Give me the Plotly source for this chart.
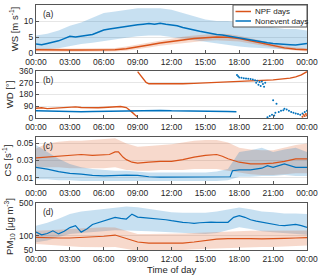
import plotly.graph_objects as go

# ---------------- data ----------------
hours = list(range(25))
half_hours = [i * 0.5 for i in range(49)]
tick_hours = [0, 3, 6, 9, 12, 15, 18, 21, 24]
tick_labels = ["00:00", "03:00", "06:00", "09:00", "12:00", "15:00", "18:00", "21:00", "00:00"]
legend_names = ["NPF days", "Nonevent days"]

# (a) wind speed
ws_non = [2.8, 2.6, 3.0, 3.3, 3.8, 4.5, 5.2, 5.0, 5.3, 5.5, 5.8, 6.5, 7.2, 7.5, 7.8, 8.0, 8.3, 8.6,
          8.8, 9.0, 9.2, 9.0, 9.3, 9.0, 8.8, 8.5, 8.0, 7.5, 7.2, 6.8, 6.4, 6.0, 5.8, 5.6, 5.3, 5.0,
          4.6, 4.4, 4.0, 3.6, 3.3, 3.2, 3.0, 2.8, 2.7, 2.6, 2.5, 2.8, 3.0]
ws_non_up = [5.5, 6, 7, 8.5, 9.5, 11, 12.5, 13, 13.5, 14, 14, 14, 13.5, 12.5, 11.5, 10.5, 10, 10,
             9.5, 9, 8.5, 8, 7.5, 7.5, 7.0]
ws_non_lo = [1.2, 1.2, 1.5, 2.2, 2.8, 3.2, 3.8, 4.3, 4.8, 5.2, 5.5, 5.5, 5.0, 4.5, 4.0, 3.4, 2.8,
             2.4, 2.0, 1.7, 1.5, 1.3, 1.2, 1.2, 1.2]
ws_npf = [1.0, 0.9, 0.9, 0.9, 0.9, 0.9, 0.9, 1.0, 1.3, 1.8, 2.5, 3.1, 3.6, 4.1, 4.5, 4.8, 5.0, 4.9,
          4.5, 3.8, 3.0, 2.2, 1.6, 1.2, 1.0]
ws_npf_up = [1.5, 1.4, 1.4, 1.4, 1.4, 1.4, 1.4, 1.6, 2.0, 2.6, 3.3, 4.0, 4.6, 5.1, 5.5, 5.8, 6.0,
             5.9, 5.4, 4.6, 3.8, 2.9, 2.2, 1.7, 1.5]
ws_npf_lo = [0.5, 0.4, 0.4, 0.4, 0.4, 0.4, 0.4, 0.5, 0.7, 1.1, 1.7, 2.3, 2.7, 3.1, 3.5, 3.8, 4.0,
             3.9, 3.6, 3.0, 2.3, 1.6, 1.1, 0.8, 0.5]

# (b) wind direction (None = wrap-around break)
wd_npf_t = [0, 0.5, 1, 1.5, 2, 2.5, 3, 3.5, 4, 4.5, 5, 5.5, 6, 6.5, 7, 7.5, 8, 8.25, 8.5, 8.75, 9.0,
            None, 9.0, 9.25, 9.5, 9.75, 10, 10.5, 11, 11.5, 12, 13, 14, 15, 16, 17, 18, 19, 20, 21,
            22, 22.5, 23, 23.5, 24]
wd_npf = [75, 78, 72, 75, 78, 80, 82, 85, 80, 78, 80, 78, 80, 82, 85, 88, 80, 65, 45, 25, 8,
          None, 355, 330, 300, 272, 262, 262, 258, 258, 258, 262, 265, 268, 272, 275, 280, 285,
          288, 292, 300, 305, 315, 330, 355]
wd_npf_scatter_t = [23.6, 23.7, 23.8, 23.9, 24.0]
wd_npf_scatter = [10, 25, 15, 30, 20]
wd_non_t = [0, 1, 2, 3, 4, 5, 6, 7, 8, 9, 10, 11, 12, 13, 14, 15, 16, 17, 17.75]
wd_non = [55, 52, 50, 50, 48, 50, 52, 55, 55, 58, 58, 58, 55, 55, 55, 52, 52, 50, 48]
wd_non_scatter_t = [17.8, 17.9, 18.0, 18.2, 18.4, 18.6, 18.8, 19.0, 19.2, 19.4, 19.5, 19.6, 19.7,
                    19.8, 19.9, 20.0, 20.1, 20.2, 20.3, 20.5, 20.7, 20.9, 21.0, 21.1, 21.2, 21.3,
                    21.5, 21.7, 21.9, 22.0, 22.2, 22.4, 22.6, 22.8, 23.0, 23.2, 23.4, 23.6, 23.8, 24.0]
wd_non_scatter = [330, 320, 310, 308, 305, 302, 300, 298, 295, 290, 270, 285, 255, 275, 245, 280,
                  260, 240, 270, 5, 15, 25, 135, 20, 40, 110, 45, 55, 60, 70, 65, 55, 45, 40, 35, 30,
                  25, 35, 45, 55]

# (c) condensation sink
cs_npf_t = [0, 1, 2, 3, 4, 5, 6, 6.5, 7, 7.3, 7.7, 8, 8.5, 9, 10, 11, 12, 13, 14, 15, 16, 16.5, 17,
            18, 19, 20, 21, 22, 23, 24]
cs_npf = [0.033, 0.034, 0.035, 0.036, 0.037, 0.036, 0.037, 0.037, 0.040, 0.040, 0.034, 0.031, 0.028,
          0.027, 0.028, 0.029, 0.029, 0.031, 0.034, 0.036, 0.037, 0.035, 0.032, 0.028, 0.026, 0.026,
          0.027, 0.029, 0.032, 0.032]
cs_npf_up = [0.044, 0.050, 0.052, 0.053, 0.053, 0.054, 0.055, 0.056, 0.050, 0.046, 0.047, 0.048,
             0.049, 0.051, 0.053, 0.054, 0.054, 0.051, 0.045, 0.043, 0.042, 0.042, 0.045, 0.048, 0.050]
cs_npf_lo = [0.022, 0.022, 0.022, 0.021, 0.021, 0.021, 0.021, 0.022, 0.019, 0.018, 0.018, 0.019,
             0.019, 0.019, 0.020, 0.020, 0.020, 0.018, 0.016, 0.014, 0.013, 0.013, 0.014, 0.015, 0.015]
cs_non_t = [0, 1, 2, 3, 4, 5, 6, 7, 8, 9, 10, 11, 12, 13, 14, 15, 16, 17, 17.2, 17.4, 18, 19, 20,
            20.5, 21, 22, 22.5, 23, 24]
cs_non = [0.022, 0.020, 0.017, 0.015, 0.014, 0.0125, 0.012, 0.0125, 0.013, 0.0125, 0.011, 0.0105,
          0.0105, 0.011, 0.0105, 0.0105, 0.0105, 0.0105, 0.011, 0.018, 0.019, 0.019, 0.021, 0.024,
          0.022, 0.026, 0.024, 0.022, 0.022]
cs_non_up = [0.048, 0.040, 0.032, 0.026, 0.022, 0.020, 0.019, 0.018, 0.018, 0.017, 0.016, 0.016,
             0.016, 0.016, 0.016, 0.016, 0.017, 0.020, 0.040, 0.042, 0.045, 0.040, 0.043, 0.045, 0.040]
cs_non_lo = [0.008, 0.008, 0.007, 0.007, 0.006, 0.006, 0.006, 0.006, 0.006, 0.006, 0.006, 0.006,
             0.006, 0.006, 0.006, 0.006, 0.006, 0.007, 0.011, 0.011, 0.012, 0.012, 0.013, 0.012, 0.012]

# (d) PM10
pm_npf = [93, 90, 90, 90, 92, 95, 98, 104, 88, 74, 70, 70, 69, 70, 74, 79, 85, 87, 88, 87, 86, 86,
          88, 90, 92]
pm_npf_up = [129, 130, 135, 140, 145, 150, 152, 150, 130, 110, 110, 110, 110, 112, 115, 118, 122,
             126, 129, 129, 128, 128, 129, 129, 130]
pm_npf_lo = [67, 64, 62, 60, 58, 57, 57, 58, 52, 48, 47, 48, 48, 50, 52, 53, 55, 56, 57, 57, 58, 58,
             60, 60, 62]
pm_non = [120, 105, 112, 128, 110, 125, 150, 165, 120, 140, 175, 190, 210, 230, 248, 235, 228, 290,
          250, 245, 240, 235, 228, 220, 210, 200, 194, 190, 185, 190, 194, 195, 194, 195, 194, 248,
          269, 248, 220, 205, 194, 185, 173, 168, 165, 170, 175, 165, 152]
pm_non_up = [165, 190, 230, 290, 330, 350, 372, 400, 420, 404, 370, 340, 318, 310, 310, 310, 330,
             360, 400, 370, 330, 318, 300, 300, 291]
pm_non_lo = [73, 80, 95, 110, 115, 120, 129, 132, 130, 129, 125, 122, 119, 115, 112, 110, 115, 130,
             152, 140, 125, 119, 115, 110, 105]

# ---------------- styling ----------------
C_NPF = "#D95319"
C_NON = "#0072BD"
F_NPF = "rgba(217,83,25,0.22)"
F_NON = "rgba(0,114,189,0.22)"
FONT = "Liberation Sans, Arial, sans-serif"

fig = go.Figure()


def band(t, lo, up, fill, xa, ya):
    fig.add_trace(go.Scatter(x=t, y=lo, mode="lines", line=dict(width=0), showlegend=False,
                             hoverinfo="skip", xaxis=xa, yaxis=ya))
    fig.add_trace(go.Scatter(x=t, y=up, mode="lines", line=dict(width=0), fill="tonexty",
                             fillcolor=fill, showlegend=False, hoverinfo="skip", xaxis=xa, yaxis=ya))


# (a)
band(hours, ws_non_lo, ws_non_up, F_NON, "x", "y")
band(hours, ws_npf_lo, ws_npf_up, F_NPF, "x", "y")
fig.add_trace(go.Scatter(x=hours, y=ws_npf, mode="lines", line=dict(color=C_NPF, width=1.5),
                         name=legend_names[0], showlegend=False, xaxis="x", yaxis="y"))
fig.add_trace(go.Scatter(x=half_hours, y=ws_non, mode="lines", line=dict(color=C_NON, width=1.5),
                         name=legend_names[1], showlegend=False, xaxis="x", yaxis="y"))

# (b)
fig.add_trace(go.Scatter(x=wd_npf_t, y=wd_npf, mode="lines", line=dict(color=C_NPF, width=1.4),
                         showlegend=False, connectgaps=False, xaxis="x2", yaxis="y2"))
fig.add_trace(go.Scatter(x=wd_npf_scatter_t, y=wd_npf_scatter, mode="markers",
                         marker=dict(color=C_NPF, size=2), showlegend=False, xaxis="x2", yaxis="y2"))
fig.add_trace(go.Scatter(x=wd_non_t, y=wd_non, mode="lines", line=dict(color=C_NON, width=1.4),
                         showlegend=False, xaxis="x2", yaxis="y2"))
fig.add_trace(go.Scatter(x=wd_non_scatter_t, y=wd_non_scatter, mode="markers",
                         marker=dict(color=C_NON, size=2), showlegend=False, xaxis="x2", yaxis="y2"))

# (c)
band(hours, cs_npf_lo, cs_npf_up, F_NPF, "x3", "y3")
band(hours, cs_non_lo, cs_non_up, F_NON, "x3", "y3")
fig.add_trace(go.Scatter(x=cs_npf_t, y=cs_npf, mode="lines", line=dict(color=C_NPF, width=1.2),
                         showlegend=False, xaxis="x3", yaxis="y3"))
fig.add_trace(go.Scatter(x=cs_non_t, y=cs_non, mode="lines", line=dict(color=C_NON, width=1.2),
                         showlegend=False, xaxis="x3", yaxis="y3"))

# (d)
band(hours, pm_non_lo, pm_non_up, F_NON, "x4", "y4")
band(hours, pm_npf_lo, pm_npf_up, F_NPF, "x4", "y4")
fig.add_trace(go.Scatter(x=hours, y=pm_npf, mode="lines", line=dict(color=C_NPF, width=1.2),
                         showlegend=False, xaxis="x4", yaxis="y4"))
fig.add_trace(go.Scatter(x=half_hours, y=pm_non, mode="lines", line=dict(color=C_NON, width=1.2),
                         showlegend=False, xaxis="x4", yaxis="y4"))

# ---------------- layout ----------------
H = 245.0
W = 271.0
def dom(top_px, bot_px):
    return [(250 - bot_px) / H, (250 - top_px) / H]

axis_common = dict(showline=True, mirror=True, linecolor="#555555", linewidth=1,
                   ticks="inside", ticklen=3, tickcolor="#555555", automargin=False,
                   tickfont=dict(size=8.5, color="#262626", family=FONT), zeroline=False)

xcommon = dict(axis_common, range=[0, 24], tickvals=tick_hours, ticktext=tick_labels,
               showgrid=False, ticklabelstandoff=1)

layout = dict(
    width=320, height=278,
    margin=dict(l=36, r=13, t=5, b=28),
    paper_bgcolor="white", plot_bgcolor="white",
    font=dict(family=FONT, size=8.5, color="#262626"),
    showlegend=False,
)
doms = [dom(5, 53), dom(71, 118), dom(137, 184), dom(203, 250)]
for i in range(4):
    xn = "xaxis" if i == 0 else f"xaxis{i+1}"
    yn = "yaxis" if i == 0 else f"yaxis{i+1}"
    anchor_y = "y" if i == 0 else f"y{i+1}"
    anchor_x = "x" if i == 0 else f"x{i+1}"
    layout[xn] = dict(xcommon, anchor=anchor_y, domain=[0, 1])
    layout[yn] = dict(axis_common, anchor=anchor_x, domain=doms[i], showgrid=True,
                      gridcolor="#E6E6E6", gridwidth=1,
                      title=dict(font=dict(size=9.5, color="#262626"), standoff=3))

layout["yaxis"].update(range=[0, 15], tickvals=[0, 5, 10, 15],
                       title_text="WS [m s<sup>-1</sup>]")
layout["yaxis2"].update(range=[0, 360], tickvals=[0, 90, 180, 270, 360],
                        title_text="WD [°]")
layout["yaxis3"].update(range=[0.0025, 0.0575], tickvals=[0.01, 0.03, 0.05],
                        ticktext=["0.01", "0.03", "0.05"], title_text="CS [s<sup>-1</sup>]")
layout["yaxis4"].update(type="log", range=[1.69897, 2.69897], tickvals=[50, 100, 500],
                        ticktext=["50", "100", "500"],
                        title_text="PM<sub>10</sub> [μg m<sup>-3</sup>]")

fig.update_layout(**layout)

# legend box in panel (a), drawn as a box with line samples and labels
def px_x(p):
    return (p - 36) / W
def px_y(p):
    return (250 - p) / H

fig.add_shape(type="rect", xref="paper", yref="paper", x0=px_x(233), x1=px_x(307),
              y0=px_y(27), y1=px_y(5), fillcolor="white", line=dict(color="#555555", width=1),
              layer="above")
for j, (name, col) in enumerate(zip(legend_names, [C_NPF, C_NON])):
    yy = 11.5 + j * 9.5
    fig.add_shape(type="line", xref="paper", yref="paper", x0=px_x(235.5), x1=px_x(251),
                  y0=px_y(yy), y1=px_y(yy), line=dict(color=col, width=1.5), layer="above")
    fig.add_annotation(text=name, xref="paper", yref="paper", x=px_x(252.5), y=px_y(yy),
                       xanchor="left", yanchor="middle", showarrow=False,
                       font=dict(size=8, color="#262626"))

fig.add_annotation(text="Time of day", xref="x4 domain", yref="paper", x=0.5, y=-12 / H,
                   xanchor="center", yanchor="top", showarrow=False,
                   font=dict(size=9.5, color="#262626"))

for i, lab in enumerate(["(a)", "(b)", "(c)", "(d)"]):
    xr = "x domain" if i == 0 else f"x{i+1} domain"
    yr = "y domain" if i == 0 else f"y{i+1} domain"
    fig.add_annotation(text=lab, xref=xr, yref=yr, x=0.02, y=0.95, xanchor="left", yanchor="top",
                       showarrow=False, font=dict(size=8.5, color="#262626"))

fig.write_html("out.html", config={"displayModeBar": False},
               post_script="document.body.style.margin='0';document.body.style.overflow='hidden';")
